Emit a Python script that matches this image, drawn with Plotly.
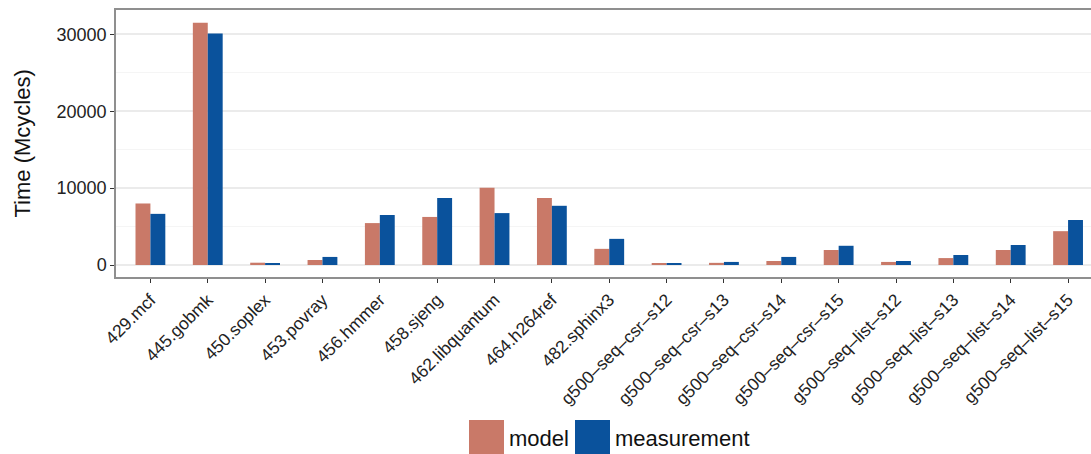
import plotly.graph_objects as go

# Benchmarks and run times (Mcycles)
benchmarks = [
    "429.mcf", "445.gobmk", "450.soplex", "453.povray", "456.hmmer",
    "458.sjeng", "462.libquantum", "464.h264ref", "482.sphinx3",
    "g500–seq–csr–s12", "g500–seq–csr–s13", "g500–seq–csr–s14", "g500–seq–csr–s15",
    "g500–seq–list–s12", "g500–seq–list–s13", "g500–seq–list–s14", "g500–seq–list–s15",
]
model = [8000, 31500, 300, 650, 5450, 6250, 10050, 8700, 2100,
         180, 280, 520, 1950, 400, 900, 1950, 4400]
measurement = [6650, 30100, 170, 1050, 6500, 8700, 6750, 7700, 3400,
               150, 400, 1050, 2500, 520, 1300, 2600, 5850]

series_names = ["model", "measurement"]
series_colors = ["#c97968", "#0a529c"]

y_ticks = [0, 10000, 20000, 30000]
y_minor = [5000, 15000, 25000]

FONT = "Liberation Sans, Arial, Helvetica, sans-serif"
TEXT = "#222222"
FRAME = "#8f8f8f"

fig = go.Figure()
for name, vals, col in zip(series_names, [model, measurement], series_colors):
    fig.add_trace(go.Bar(
        x=benchmarks, y=vals, name=name, marker_color=col,
        marker_line_width=0, showlegend=False,
    ))

fig.update_layout(
    width=1091, height=454,
    margin=dict(l=116, r=0, t=10, b=177),
    paper_bgcolor="white", plot_bgcolor="white",
    barmode="group", bargap=0.48, bargroupgap=0,
    font=dict(family=FONT, color=TEXT, size=18),
)

fig.update_xaxes(
    type="category", range=[-0.6, 16.4],
    showgrid=False, zeroline=False,
    showline=True, mirror=True, linecolor=FRAME, linewidth=1.5,
    ticks="outside", ticklen=4, tickcolor="#333333", tickwidth=1,
    tickangle=-45, tickfont=dict(size=17.5, color=TEXT),
)

fig.update_yaxes(
    range=[-1560, 33160],
    tickvals=y_ticks, ticktext=[str(v) for v in y_ticks],
    showgrid=True, gridcolor="#ebebeb", gridwidth=1.5,
    zeroline=False,
    showline=True, mirror=False, linecolor=FRAME, linewidth=1.5,
    ticks="outside", ticklen=4, tickcolor="#333333", tickwidth=1,
    tickfont=dict(size=18, color=TEXT),
    minor=dict(tickvals=y_minor, showgrid=True, gridcolor="#f5f5f5",
               gridwidth=1, ticks=""),
)

# Axis title
fig.add_annotation(
    text="Time (Mcycles)", textangle=-90,
    xref="paper", yref="paper", x=-0.0964, y=0.5,
    xanchor="center", yanchor="middle", showarrow=False,
    font=dict(size=22, color="#111111", family=FONT),
)

# Legend drawn below the panel with large square keys
def px_x(p):
    return (p - 116) / 975.0

def px_y(p):
    return (277 - p) / 267.0

legend_items = [(469, 504, 507), (575, 610, 613)]
for (x0, x1, tx), name, col in zip(legend_items, series_names, series_colors):
    fig.add_shape(
        type="rect", xref="paper", yref="paper",
        x0=px_x(x0), x1=px_x(x1), y0=px_y(454), y1=px_y(420),
        fillcolor=col, line_width=0,
    )
    fig.add_annotation(
        text=name, xref="paper", yref="paper",
        x=px_x(tx), y=px_y(438), xanchor="left", yanchor="middle",
        showarrow=False, font=dict(size=22, color="#111111", family=FONT),
    )

fig.write_html("out.html")
